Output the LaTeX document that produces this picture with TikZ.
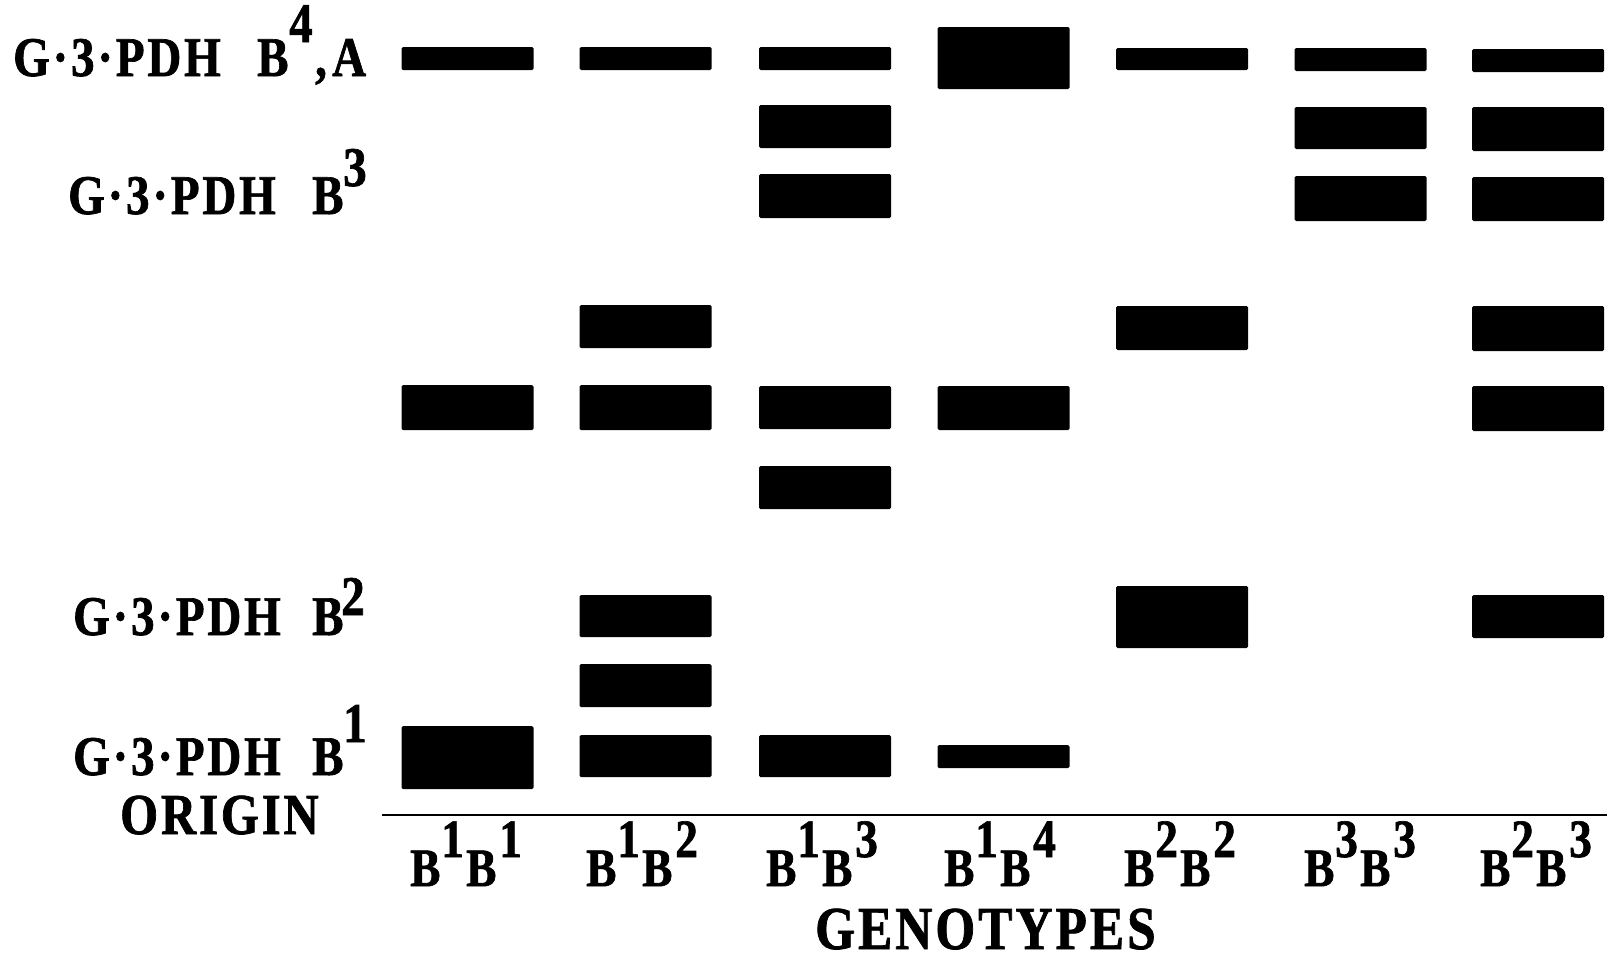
\documentclass[tikz,border=0pt]{standalone}
\usepackage{fontspec}
\setmainfont{Liberation Serif}[FakeStretch=0.84,LetterSpace=5,BoldFeatures={FakeBold=1.2}]
\tikzset{
  band/.style={fill=black, rounded corners=1.5pt},
  lbl/.style={inner sep=0pt, anchor=base west, font=\bfseries\fontsize{56}{56}\selectfont},
  genolbl/.style={inner sep=0pt, anchor=base west, font=\bfseries\fontsize{54}{54}\selectfont},
  titlelbl/.style={inner sep=0pt, anchor=base west, font=\bfseries\fontsize{61}{61}\selectfont},
  axisline/.style={line width=2.5pt},
}
\newcommand{\bandat}[3]{\fill[band] ({#1-66},#2) rectangle ({#1+66},#3);}
\newcommand{\genotext}[2]{\makebox[31pt][l]{B}\makebox[25pt][l]{\raisebox{29pt}{#1}}\makebox[33pt][l]{B}\raisebox{29pt}{#2}}
\begin{document}
\begin{tikzpicture}[x=1pt,y=-1pt]
\useasboundingbox[fill=white] (0,0) rectangle (1607,962);
% column centres
\def\cA{467.5}\def\cB{645.5}\def\cC{825}\def\cD{1003.5}\def\cE{1182}\def\cF{1360.5}\def\cG{1538}
% row 1
\bandat{\cA}{47}{70}
\bandat{\cB}{47}{70}
\bandat{\cC}{47}{70}
\bandat{\cD}{27}{89}
\bandat{\cE}{48}{70}
\bandat{\cF}{48}{71}
\bandat{\cG}{49}{72}
% rows 2 and 3
\bandat{\cC}{105}{148}
\bandat{\cF}{107}{149}
\bandat{\cG}{107}{151}
\bandat{\cC}{174}{218}
\bandat{\cF}{176}{221}
\bandat{\cG}{177}{221}
% row 4
\bandat{\cB}{305}{348}
\bandat{\cE}{306}{350}
\bandat{\cG}{306}{351}
% row 5
\bandat{\cA}{385}{430}
\bandat{\cB}{385}{430}
\bandat{\cC}{386}{429}
\bandat{\cD}{386}{430}
\bandat{\cG}{386}{431}
% row 6
\bandat{\cC}{466}{509}
% row 7
\bandat{\cB}{595}{637}
\bandat{\cE}{586}{648}
\bandat{\cG}{595}{638}
% row 8
\bandat{\cB}{664}{707}
% row 9
\bandat{\cA}{726}{789}
\bandat{\cB}{735}{777}
\bandat{\cC}{735}{777}
\bandat{\cD}{745}{768}
% origin line
\coordinate (oL) at (382,815);
\coordinate (oR) at (1607,815);
\draw[axisline] (oL) -- (oR);
% left labels
\node[lbl] (lA) at (13,76) {\makebox[244pt][l]{G·3·PDH}\makebox[32pt][l]{B}\makebox[26pt][l]{\raisebox{34pt}{4}}\makebox[17pt][l]{,}A};
\node[lbl] (lB3) at (68,214) {\makebox[244pt][l]{G·3·PDH}\makebox[31pt][l]{B}\raisebox{28pt}{3}};
\node[lbl] (lB2) at (73,635) {\makebox[239pt][l]{G·3·PDH}\makebox[29pt][l]{B}\raisebox{20pt}{2}};
\node[lbl] (lB1) at (73,775) {\makebox[239pt][l]{G·3·PDH}\makebox[31pt][l]{B}\raisebox{33pt}{1}};
\node[lbl, font=\bfseries\fontsize{58}{58}\selectfont] (lO) at (120,834) {ORIGIN};
% genotype labels
\node[genolbl] (g1) at (410,886) {\genotext{1}{1}};
\node[genolbl] (g2) at (586,886) {\genotext{1}{2}};
\node[genolbl] (g3) at (766,886) {\genotext{1}{3}};
\node[genolbl] (g4) at (944,886) {\genotext{1}{4}};
\node[genolbl] (g5) at (1124,886) {\genotext{2}{2}};
\node[genolbl] (g6) at (1304,886) {\genotext{3}{3}};
\node[genolbl] (g7) at (1480,886) {\genotext{2}{3}};
\node[titlelbl] (gt) at (815,949) {GENOTYPES};
\end{tikzpicture}
\end{document}
